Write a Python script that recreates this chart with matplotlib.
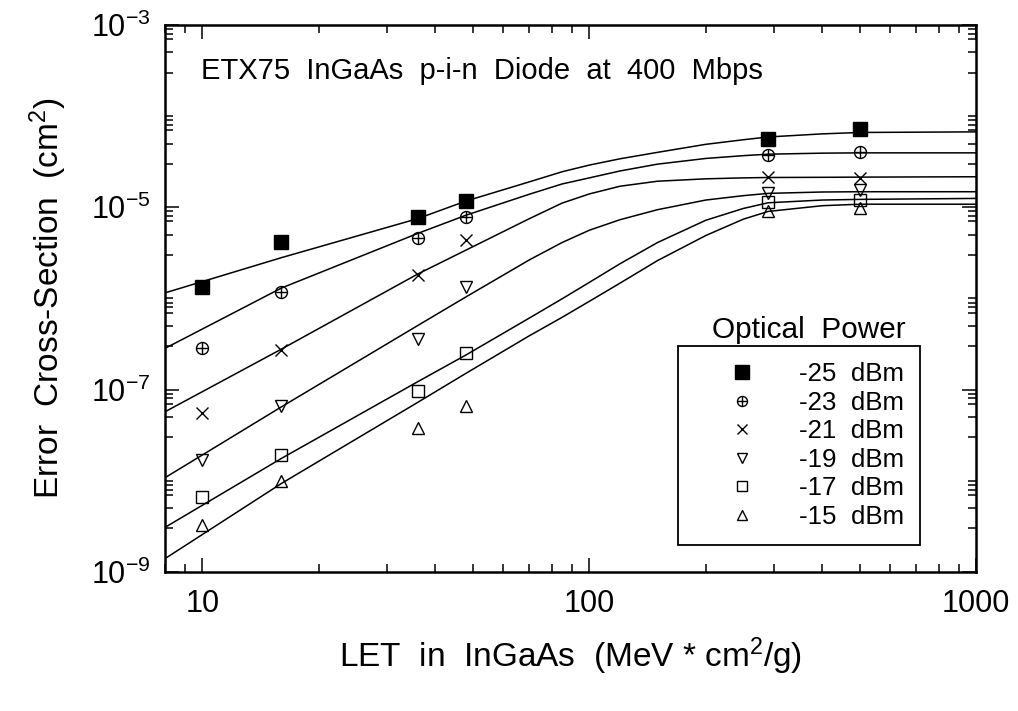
import numpy as np
import matplotlib
matplotlib.use("Agg")
import matplotlib.pyplot as plt
from matplotlib.lines import Line2D
from matplotlib.legend_handler import HandlerTuple
from matplotlib.ticker import FixedLocator, NullFormatter

plt.rcParams['font.family'] = ['Liberation Sans', 'DejaVu Sans']
plt.rcParams['mathtext.fontset'] = 'custom'
plt.rcParams['mathtext.rm'] = 'Liberation Sans'
plt.rcParams['mathtext.it'] = 'Liberation Sans'
plt.rcParams['mathtext.default'] = 'regular'

# measured points (LET in MeV*cm2/g, cross-section in cm2)
let_vals = [10, 16, 36, 48, 290, 500]
sig_m25 = [1.32e-6, 4.18e-6, 7.85e-6, 1.17e-5, 5.67e-5, 7.18e-5]
sig_m23 = [2.83e-7, 1.18e-6, 4.55e-6, 7.85e-6, 3.73e-5, 4.06e-5]
sig_m21 = [5.48e-8, 2.71e-7, 1.80e-6, 4.35e-6, 2.15e-5, 2.10e-5]
sig_m19 = [1.69e-8, 6.59e-8, 3.55e-7, 1.32e-6, 1.44e-5, 1.54e-5]
sig_m17 = [6.68e-9, 1.92e-8, 9.64e-8, 2.53e-7, 1.15e-5, 1.20e-5]
sig_m15 = [3.27e-9, 9.93e-9, 3.75e-8, 6.59e-8, 9.06e-6, 9.70e-6]

# fit curves
fit_let = [8, 16, 36, 48, 70, 85, 100, 120, 150, 200, 250, 290, 400, 500, 1000]
fit_m25 = [1.15e-6, 2.8e-6, 7.5e-6, 1.17e-5, 1.9e-5, 2.45e-5, 2.9e-5, 3.4e-5, 4.0e-5,
           4.9e-5, 5.5e-5, 5.9e-5, 6.38e-5, 6.61e-5, 6.71e-5]
fit_m23 = [2.83e-7, 1.3e-6, 5.16e-6, 8.18e-6, 1.39e-5, 1.8e-5, 2.1e-5, 2.5e-5, 2.97e-5,
           3.43e-5, 3.68e-5, 3.82e-5, 3.92e-5, 3.95e-5, 3.95e-5]
fit_m21 = [5.71e-8, 2.78e-7, 1.85e-6, 3.39e-6, 7.5e-6, 1.11e-5, 1.40e-5, 1.70e-5, 1.93e-5,
           2.05e-5, 2.1e-5, 2.12e-5, 2.13e-5, 2.14e-5, 2.16e-5]
fit_m19 = [1.08e-8, 6.47e-8, 5.04e-7, 1.04e-6, 2.65e-6, 4.1e-6, 5.6e-6, 7.3e-6, 9.4e-6,
           1.2e-5, 1.34e-5, 1.42e-5, 1.47e-5, 1.48e-5, 1.48e-5]
fit_m17 = [3.08e-9, 1.76e-8, 1.22e-7, 2.4e-7, 6.1e-7, 9.9e-7, 1.5e-6, 2.4e-6, 4.1e-6,
           7.2e-6, 9.7e-6, 1.12e-5, 1.2e-5, 1.22e-5, 1.25e-5]
fit_m15 = [1.4e-9, 9.35e-9, 7.24e-8, 1.51e-7, 3.9e-7, 6.2e-7, 9.3e-7, 1.47e-6, 2.6e-6,
           4.9e-6, 7.4e-6, 9.0e-6, 1.04e-5, 1.08e-5, 1.08e-5]

power_labels = ["-25  dBm", "-23  dBm", "-21  dBm", "-19  dBm", "-17  dBm", "-15  dBm"]

fig = plt.figure(figsize=(10.18, 7.11), dpi=100)
ax = fig.add_axes([0.162, 0.1955, 0.797, 0.7695])

for fit in [fit_m25, fit_m23, fit_m21, fit_m19, fit_m17, fit_m15]:
    ax.plot(fit_let, fit, color='black', lw=1.1, zorder=2)

mk = dict(linestyle='none', color='black', mec='black', mew=1.0, zorder=3)
ax.plot(let_vals, sig_m25, marker='s', ms=9.4, mfc='black', **mk)
ax.plot(let_vals, sig_m23, marker='o', ms=8.6, mfc='none', **mk)
ax.plot(let_vals, sig_m23, marker='+', ms=8.6, **mk)
ax.plot(let_vals, sig_m21, marker='x', ms=8.6, **mk)
ax.plot(let_vals, sig_m19, marker='v', ms=8.6, mfc='none', **mk)
ax.plot(let_vals, sig_m17, marker='s', ms=8.6, mfc='none', **mk)
ax.plot(let_vals, sig_m15, marker='^', ms=8.6, mfc='none', **mk)

ax.set_xscale('log')
ax.set_yscale('log')
ax.set_xlim(8, 1000)
ax.set_ylim(1e-9, 1e-3)

ax.xaxis.set_major_locator(FixedLocator([10, 100, 1000]))
ax.set_xticklabels(["10", "100", "1000"])
xminor = [s * 10.0 ** d for d in range(0, 3) for s in range(2, 10)]
ax.xaxis.set_minor_locator(FixedLocator([v for v in xminor if 8 <= v <= 1000]))
ax.xaxis.set_minor_formatter(NullFormatter())

ax.yaxis.set_major_locator(FixedLocator([1e-9, 1e-7, 1e-5, 1e-3]))
ax.set_yticklabels([r"$10^{-9}$", r"$10^{-7}$", r"$10^{-5}$", r"$10^{-3}$"])
yminor = [s * 10.0 ** d for d in range(-9, -3) for s in (1, 3, 5, 7, 8, 9)]
ax.yaxis.set_minor_locator(FixedLocator(yminor))
ax.yaxis.set_minor_formatter(NullFormatter())

ax.tick_params(which='both', direction='in', top=True, right=True, width=1.1, colors='black')
ax.tick_params(which='major', length=10, labelsize=22)
ax.tick_params(which='minor', length=5.5)
ax.tick_params(axis='x', which='major', pad=12)
ax.tick_params(axis='y', which='major', pad=10)
for sp in ax.spines.values():
    sp.set_linewidth(1.8)

ax.set_xlabel(r"LET  in  InGaAs  (MeV * cm$^2$/g)", fontsize=24, labelpad=12)
ax.set_ylabel(r"Error  Cross-Section  (cm$^2$)", fontsize=24, labelpad=16)

ax.text(0.045, 0.902, "ETX75  InGaAs  p-i-n  Diode  at  400  Mbps", transform=ax.transAxes,
        fontsize=21, ha='left', va='baseline')

# legend
lk = dict(linestyle='none', color='black', mec='black', mew=1.0)
handles = [
    Line2D([], [], marker='s', ms=10, mfc='black', **lk),
    (Line2D([], [], marker='o', ms=7.2, mfc='none', **lk), Line2D([], [], marker='+', ms=7.2, **lk)),
    Line2D([], [], marker='x', ms=7.2, **lk),
    Line2D([], [], marker='v', ms=7.2, mfc='none', **lk),
    Line2D([], [], marker='s', ms=7.2, mfc='none', **lk),
    Line2D([], [], marker='^', ms=7.2, mfc='none', **lk),
]
leg = ax.legend(handles, power_labels, loc='lower left', bbox_to_anchor=(0.633, 0.0499),
                borderaxespad=0, frameon=True, fancybox=False, framealpha=1,
                edgecolor='black', fontsize=18.6, handlelength=3.67, handletextpad=0.36,
                borderpad=0.62, labelspacing=0.175,
                handler_map={tuple: HandlerTuple(ndivide=1, pad=0)})
leg.get_frame().set_linewidth(1.3)
ax.text(0.793, 0.442, "Optical  Power", transform=ax.transAxes, fontsize=21.4,
        ha='center', va='center')

fig.savefig("out.png", dpi=100)
